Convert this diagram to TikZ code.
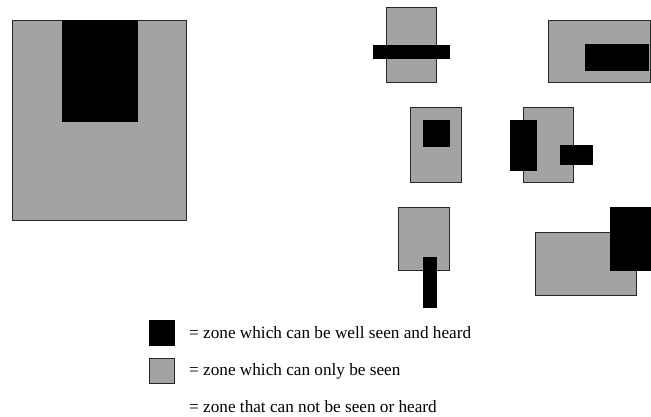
\documentclass[tikz,border=0pt]{standalone}
\usepackage{fontspec}
\setmainfont{Liberation Serif}
\definecolor{zonegray}{RGB}{163,163,163}
\definecolor{edgegray}{RGB}{40,40,40}
\tikzset{
  seen/.style={fill=zonegray, draw=edgegray, line width=1pt},
  heard/.style={fill=black, draw=black, line width=0.6pt},
  legendtext/.style={anchor=base west, inner sep=0pt, font=\fontsize{17.2}{19}\selectfont}
}
\begin{document}
\begin{tikzpicture}[x=1pt, y=-1pt]
\useasboundingbox (0,0) rectangle (651,417);
% large room
\draw[seen] (12.3,20.3) rectangle (186.7,220.7);
\draw[heard] (62,20.3) rectangle (137.3,121);
% top middle: bar across
\draw[seen] (386.3,7.7) rectangle (436.3,83);
\draw[heard] (373.3,45.3) rectangle (449,58);
% top right
\draw[seen] (548.3,20.7) rectangle (650.3,83);
\draw[heard] (585.3,44.7) rectangle (648.7,70.7);
% middle left
\draw[seen] (410.7,107.7) rectangle (461.3,183);
\draw[heard] (423.3,120) rectangle (449.3,146);
% middle right
\draw[seen] (523.3,107.7) rectangle (573.3,183);
\draw[heard] (510.7,120.3) rectangle (536.7,170.7);
\draw[heard] (560.3,145) rectangle (592.7,164.7);
% bottom left
\draw[seen] (398.7,207.7) rectangle (449,270.3);
\draw[heard] (423.3,257.3) rectangle (436.7,307.7);
% bottom right
\draw[seen] (535.3,232.3) rectangle (636,295.7);
\draw[heard] (610.3,207.7) rectangle (650.7,270.7);
% legend
\draw[heard] (149,320) rectangle (174.7,345.3);
\draw[seen] (149,358.3) rectangle (174.7,383.3);
\node[legendtext] (l1) at (189,338) {= zone which can be well seen and heard};
\node[legendtext] (l2) at (189,375.3) {= zone which can only be seen};
\node[legendtext] (l3) at (189,412.5) {= zone that can not be seen or heard};
\end{tikzpicture}
\end{document}
